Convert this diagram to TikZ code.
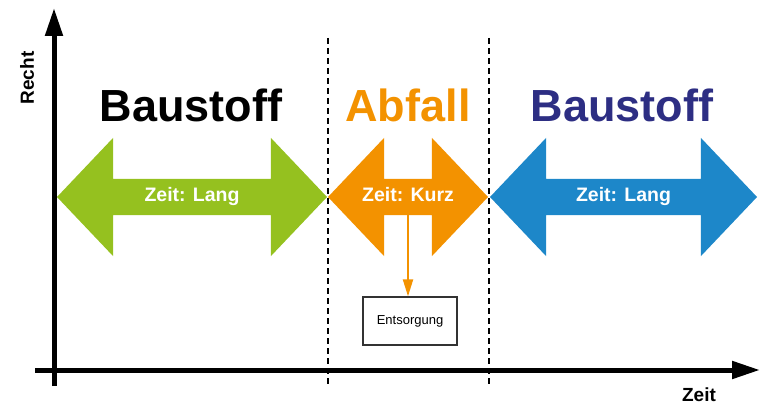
\documentclass[tikz,border=0pt]{standalone}
\usepackage{fontspec}
\setmainfont{Liberation Sans}
\usetikzlibrary{positioning, shapes.arrows, arrows.meta}
\definecolor{gruen}{HTML}{95C11F}
\definecolor{orange}{HTML}{F39200}
\definecolor{blau}{HTML}{1D87C9}
\definecolor{marine}{HTML}{2D2E83}
\tikzstyle{achse} = [line width=5pt, -{Triangle[length=28pt,width=17pt]}]
\tikzstyle{trenner} = [line width=1.8pt, dash pattern=on 6pt off 4pt]

\begin{document}
\begin{tikzpicture}[x=1pt, y=-1pt,
zeitpfeil/.style={double arrow, double arrow head extend=41pt, double arrow tip angle=93, minimum height=#1, minimum width=118pt, inner sep=0pt, text height=22pt, text depth=14pt, text=white, font=\bfseries\fontsize{19.5}{21}\selectfont},
titel/.style={anchor=base, font=\bfseries\fontsize{45}{50}\selectfont},
kasten/.style={rectangle, draw=black!80, line width=1.2pt, minimum width=94pt, minimum height=48pt, font=\fontsize{13}{15}\selectfont}
]
\useasboundingbox (0,0) rectangle (765,406);
% Achsen
\coordinate (O1) at (54,386);
\coordinate (Y) at (54,8);
\coordinate (O2) at (35,370);
\coordinate (X) at (760,370);
\draw[achse] (O1) -- (Y);
\draw[achse] (O2) -- (X);
\node[rotate=90, font=\bfseries\fontsize{19}{20}\selectfont] (recht) at (27,78) {Recht};
\node[font=\bfseries\fontsize{19}{20}\selectfont] (zeit) at (699,394.5) {Zeit};

% Trennlinien
\coordinate (T1o) at (328,38);
\coordinate (T1u) at (328,386);
\coordinate (T2o) at (489,38);
\coordinate (T2u) at (489,386);
\draw[trenner] (T1o) -- (T1u);
\draw[trenner] (T2o) -- (T2u);

% Phasen
\node[titel] (bau1) at (191,122) {Baustoff};
\node[titel, text=orange] (abf) at (408,122) {Abfall};
\node[titel, text=marine] (bau2) at (622,122) {Baustoff};

\node[zeitpfeil=270pt, fill=gruen] (lang1) at (192,197) {Zeit: Lang};
\node[zeitpfeil=160pt, fill=orange] (kurz) at (408,197) {Zeit: Kurz};
\node[zeitpfeil=267pt, fill=blau] (lang2) at (623.5,197) {Zeit: Lang};

\node[kasten] (ents) at (410,321) {Entsorgung};
\draw[orange, line width=2pt, -{Triangle[length=17pt,width=10pt]}] ([yshift=-14pt]kurz.base) -- (ents.north -| kurz.base);
\end{tikzpicture}
\end{document}
